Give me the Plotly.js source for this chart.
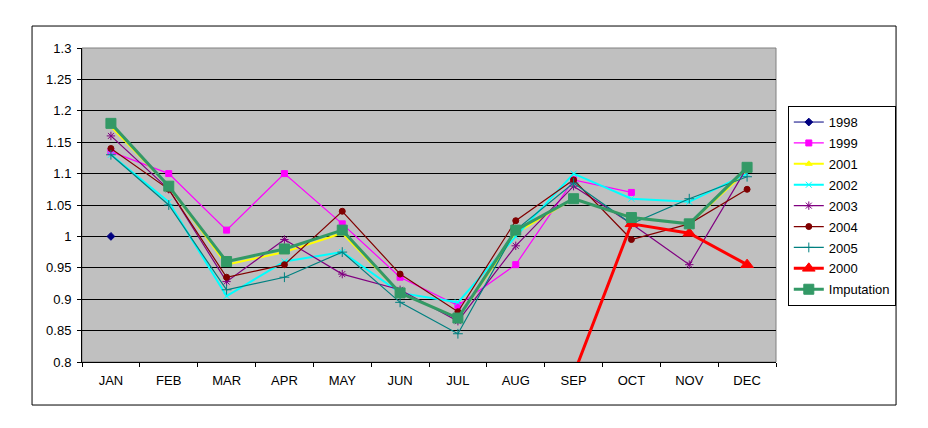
<!DOCTYPE html>
<html>
<head>
<meta charset="utf-8">
<script src="https://cdn.plot.ly/plotly-3.0.1.min.js"></script>
<style>
	html, body { margin: 0; padding: 0; background: #fff; }
	#chart { width: 928px; height: 428px; }
</style>
</head>
<body>
<div id="chart"></div>
<script>
	// monthly index values per year
	var months = ['JAN', 'FEB', 'MAR', 'APR', 'MAY', 'JUN', 'JUL', 'AUG', 'SEP', 'OCT', 'NOV', 'DEC'];
	var y1998 = [1.0, null, null, null, null, null, null, null, null, null, null, null];
	var y1999 = [1.135, 1.10, 1.01, 1.10, 1.02, 0.935, 0.89, 0.955, 1.09, 1.07, null, null];
	var y2001 = [1.175, 1.08, 0.955, 0.975, 1.005, 0.91, 0.87, 1.005, 1.06, 1.03, 1.02, 1.105];
	var y2002 = [1.13, 1.055, 0.905, 0.96, 0.975, 0.91, 0.895, 1.0, 1.10, 1.06, 1.055, 1.10];
	var y2003 = [1.16, 1.075, 0.928, 0.995, 0.94, 0.915, 0.865, 0.985, 1.08, 1.02, 0.955, 1.11];
	var y2004 = [1.14, 1.075, 0.935, 0.955, 1.04, 0.94, 0.88, 1.025, 1.09, 0.995, 1.02, 1.075];
	var y2005 = [1.13, 1.05, 0.915, 0.935, 0.975, 0.895, 0.845, 1.01, 1.085, 1.02, 1.06, 1.095];
	var y2000 = [null, null, null, null, null, null, null, null, 0.78, 1.02, 1.005, 0.955];
	var imputation = [1.18, 1.08, 0.96, 0.98, 1.01, 0.91, 0.87, 1.01, 1.06, 1.03, 1.02, 1.11];

	function series(name, y, color, symbol, size, width) {
		return {
			x: months,
			y: y,
			name: name,
			legendgroup: name,
			mode: 'lines+markers',
			line: { color: color, width: width },
			marker: { color: color, symbol: symbol, size: size, line: { color: color, width: 1 } }
		};
	}

	var data = [
		series('1998', y1998, '#000080', 'diamond', 6, 1),
		series('1999', y1999, '#FF00FF', 'square', 6, 1.2),
		series('2001', y2001, '#FFFF00', 'triangle-up', 6, 2),
		series('2002', y2002, '#00FFFF', 'x-thin-open', 6, 2),
		series('2003', y2003, '#800080', 'asterisk-open', 7, 1.2),
		series('2004', y2004, '#800000', 'circle', 6, 1.2),
		series('2005', y2005, '#008080', 'cross-thin-open', 7, 1.2),
		series('2000', y2000, '#FF0000', 'triangle-up', 11, 3),
		series('Imputation', imputation, '#339966', 'square', 10, 3)
	];

	var layout = {
		width: 928,
		height: 428,
		paper_bgcolor: '#ffffff',
		plot_bgcolor: '#C0C0C0',
		font: { family: 'Liberation Sans, Arial, sans-serif', size: 13, color: '#000' },
		margin: { l: 82, r: 152, t: 48, b: 66, pad: 0 },
		showlegend: true,
		legend: {
			x: 1.017,
			y: 0.815,
			xanchor: 'left',
			yanchor: 'top',
			bgcolor: '#fff',
			bordercolor: '#000',
			borderwidth: 1,
			tracegroupgap: 1,
			itemwidth: 30,
			font: { size: 13 }
		},
		xaxis: {
			type: 'category',
			range: [-0.5, 11.5],
			showgrid: false,
			zeroline: false,
			showline: true,
			linecolor: '#000',
			linewidth: 1,
			ticks: 'outside',
			tickson: 'boundaries',
			ticklen: 4,
			tickcolor: '#000',
			ticklabelstandoff: 6
		},
		yaxis: {
			range: [0.8, 1.3],
			tick0: 0.8,
			dtick: 0.05,
			showgrid: true,
			gridcolor: '#000',
			gridwidth: 1,
			zeroline: false,
			showline: true,
			linecolor: '#000',
			linewidth: 1,
			ticks: 'outside',
			ticklen: 4,
			tickcolor: '#000',
			ticklabelstandoff: 3
		},
		shapes: [
			// plot area border
			{ type: 'rect', xref: 'paper', yref: 'paper', x0: 0, x1: 1, y0: 0, y1: 1,
			  line: { color: '#808080', width: 1 }, layer: 'below' },
			// chart area border
			{ type: 'rect', xref: 'paper', yref: 'paper', x0: -0.072, x1: 1.173, y0: -0.137, y1: 1.07,
			  line: { color: '#000', width: 1 } }
		]
	};

	var config = { displayModeBar: false, staticPlot: true };

	Plotly.newPlot('chart', data, layout, config);
</script>
</body>
</html>
